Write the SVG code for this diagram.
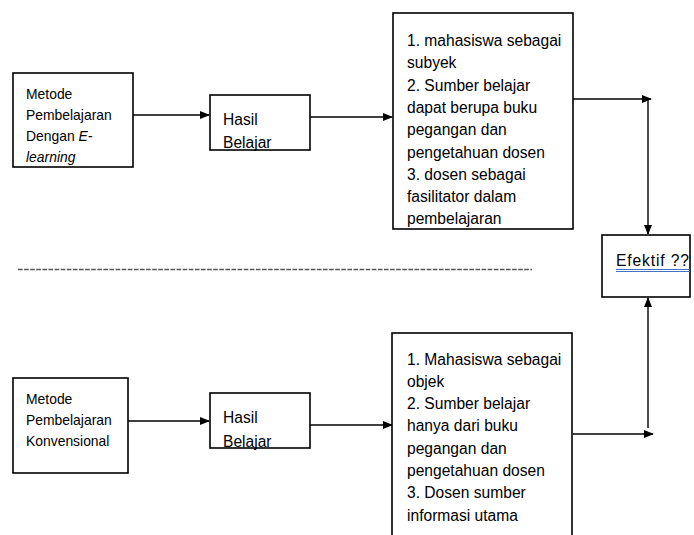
<svg xmlns="http://www.w3.org/2000/svg" width="694" height="535" viewBox="0 0 694 535">
<style>
.box{fill:#fff;stroke:#000;stroke-width:1.6}
.t{font-family:"Liberation Sans",Arial,sans-serif;font-size:15.6px;fill:#000}
.s{font-family:"Liberation Sans",Arial,sans-serif;font-size:13.9px;fill:#000}
.c{stroke:#000;stroke-width:1.4;fill:none}
</style>
<defs>
<marker id="ah" markerWidth="10" markerHeight="8" refX="9" refY="4" orient="auto" markerUnits="userSpaceOnUse">
<path d="M0,0 L10,4 L0,8 Z" fill="#000"/>
</marker>
</defs>
<rect width="694" height="535" fill="#fff"/>
<g id="connectors">
<line class="c" x1="133" y1="115" x2="209" y2="115" marker-end="url(#ah)"/>
<line class="c" x1="310" y1="117" x2="392" y2="117" marker-end="url(#ah)"/>
<line class="c" x1="573" y1="99" x2="651" y2="99" marker-end="url(#ah)"/>
<line class="c" x1="648" y1="99" x2="648" y2="234" marker-end="url(#ah)"/>
<line class="c" x1="128" y1="421" x2="209" y2="421" marker-end="url(#ah)"/>
<line class="c" x1="310" y1="425" x2="392" y2="425" marker-end="url(#ah)"/>
<line class="c" x1="573" y1="434" x2="653" y2="434" marker-end="url(#ah)"/>
<line class="c" x1="648" y1="428" x2="648" y2="298" marker-end="url(#ah)"/>
</g>
<g id="separator">
<line x1="18" y1="269.5" x2="532" y2="269.5" stroke="#555" stroke-width="1.3" stroke-dasharray="4.6 1.5"/>
</g>
<g id="metode-elearning">
<rect class="box" x="13" y="73" width="120" height="94"/>
<text class="s" x="26" y="99">Metode</text>
<text class="s" x="26" y="120">Pembelajaran</text>
<text class="s" x="26" y="141">Dengan <tspan font-style="italic">E-</tspan></text>
<text class="s" x="26" y="162" font-style="italic">learning</text>
</g>
<g id="hasil-1">
<rect class="box" x="210" y="95" width="100" height="55"/>
<text class="t" x="223" y="125">Hasil</text>
<text class="t" x="223" y="148">Belajar</text>
</g>
<g id="ciri-elearning">
<rect class="box" x="393" y="13" width="180" height="216"/>
<text class="t" x="407" y="46">1. mahasiswa sebagai</text>
<text class="t" x="407" y="68.3">subyek</text>
<text class="t" x="407" y="90.6">2. Sumber belajar</text>
<text class="t" x="407" y="112.9">dapat berupa buku</text>
<text class="t" x="407" y="135.2">pegangan dan</text>
<text class="t" x="407" y="157.5">pengetahuan dosen</text>
<text class="t" x="407" y="179.8">3. dosen sebagai</text>
<text class="t" x="407" y="202.1">fasilitator dalam</text>
<text class="t" x="407" y="224.4">pembelajaran</text>
</g>
<g id="efektif">
<rect class="box" x="602" y="235" width="88" height="62"/>
<text class="t" x="616" y="266" textLength="73" lengthAdjust="spacing">Efektif ??</text>
<line x1="616" y1="269.5" x2="690" y2="269.5" stroke="#4472c4" stroke-width="1"/>
<line x1="616" y1="271.5" x2="690" y2="271.5" stroke="#4472c4" stroke-width="1"/>
</g>
<g id="metode-konvensional">
<rect class="box" x="13" y="378" width="115" height="95"/>
<text class="s" x="26" y="404">Metode</text>
<text class="s" x="26" y="425">Pembelajaran</text>
<text class="s" x="26" y="446">Konvensional</text>
</g>
<g id="hasil-2">
<rect class="box" x="210" y="393" width="100" height="55"/>
<text class="t" x="223" y="423">Hasil</text>
<text class="t" x="223" y="447">Belajar</text>
</g>
<g id="ciri-konvensional">
<rect class="box" x="392" y="333" width="180" height="210"/>
<text class="t" x="407" y="364.5">1. Mahasiswa sebagai</text>
<text class="t" x="407" y="386.8">objek</text>
<text class="t" x="407" y="409.1">2. Sumber belajar</text>
<text class="t" x="407" y="431.4">hanya dari buku</text>
<text class="t" x="407" y="453.7">pegangan dan</text>
<text class="t" x="407" y="476">pengetahuan dosen</text>
<text class="t" x="407" y="498.3">3. Dosen sumber</text>
<text class="t" x="407" y="520.6">informasi utama</text>
</g>
</svg>
